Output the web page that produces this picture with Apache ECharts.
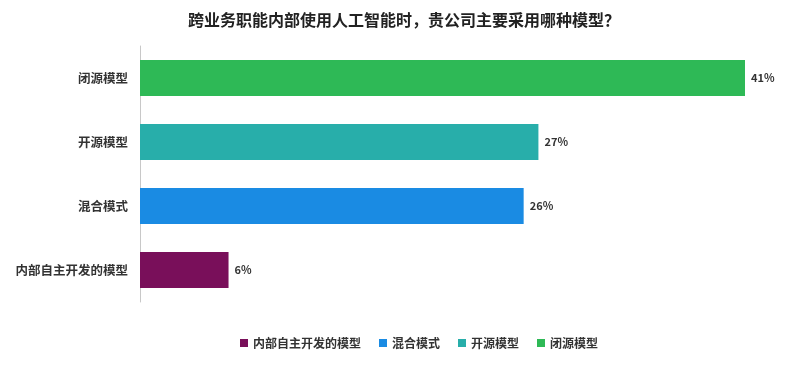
<!DOCTYPE html>
<html><head><meta charset="utf-8">
<script src="https://cdn.jsdelivr.net/npm/echarts@6/dist/echarts.min.js"></script>
<style>html,body{margin:0;padding:0;background:#fff}#c{width:789px;height:366px}</style>
</head><body><div id="c"></div>
<script>
const categories = ['内部自主开发的模型', '混合模式', '开源模型', '闭源模型'];
const values = [6, 26, 27, 41];
const colors = ['#790f5a', '#1a8be3', '#28aeaa', '#2eb956'];
const titleText = '跨业务职能内部使用人工智能时，贵公司主要采用哪种模型？';
const FONT = '"Noto Sans CJK SC", "Noto Sans", sans-serif';

const series = categories.map((name, i) => ({
  name: name,
  type: 'bar',
  stack: 'all',
  barWidth: 36,
  itemStyle: { color: colors[i] },
  data: categories.map((c, j) => (j === i ? values[i] : null)),
  label: {
    show: true, position: 'right', distance: 6,
    formatter: p => p.value + '%',
    color: '#333', fontWeight: 'bold', fontSize: 11, fontFamily: FONT
  }
}));

const chart = echarts.init(document.getElementById('c'));
chart.setOption({
  animation: false,
  textStyle: { fontFamily: FONT },
  title: {
    text: titleText, left: 399, textAlign: 'center', top: 7,
    textStyle: { fontSize: 16, fontWeight: 'bold', color: '#222', fontFamily: FONT }
  },
  legend: {
    data: categories, bottom: 12, left: 235,
    icon: 'rect', itemWidth: 8, itemHeight: 8, itemGap: 18,
    textStyle: { fontSize: 12, color: '#333', fontWeight: 'bold', fontFamily: FONT }
  },
  grid: { left: 140, right: 44, top: 46, bottom: 64, containLabel: false },
  xAxis: { type: 'value', min: 0, max: 41, show: false },
  yAxis: {
    type: 'category', data: categories,
    axisLine: { show: true, lineStyle: { color: '#c8c8c8', width: 1 } },
    axisTick: { show: false },
    axisLabel: { margin: 12, fontSize: 12.5, color: '#333', fontWeight: 'bold', fontFamily: FONT }
  },
  series: series
});
</script></body></html>
